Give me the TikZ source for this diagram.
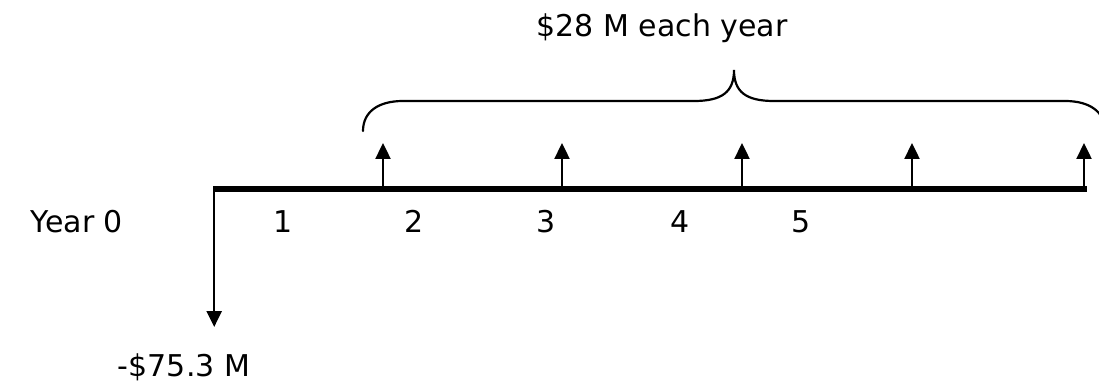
\documentclass[tikz,border=0pt]{standalone}
\usepackage{fontspec}
\setmainfont{DejaVu Sans}
\usetikzlibrary{arrows.meta}
\tikzset{
  lbl/.style={anchor=base, inner sep=0pt, font=\fontsize{30}{36}\selectfont},
  cash/.style={line width=2.4pt, -{Triangle[width=15pt,length=16pt]}},
  axis/.style={line width=6pt, line cap=butt},
  bracestyle/.style={line width=2.2pt, line cap=round}
}
\begin{document}
\begin{tikzpicture}[x=1pt,y=-1pt]
\useasboundingbox (0,0) rectangle (1099,382);
% timeline
\coordinate (t0) at (213,189);
\coordinate (tend) at (1087,189);
\draw[axis] (t0) -- (tend);
% outflow at year 0
\coordinate (v0) at (214.2,186);
\coordinate (out) at (214.2,327);
\draw[cash] (v0) -- (out);
% inflows
\foreach \i/\x in {1/383,2/562,3/742,4/912,5/1084}{
  \coordinate (b\i) at (\x,189);
  \coordinate (u\i) at (\x,143);
  \draw[cash] (b\i) -- (u\i);
}
% labels
\node[lbl] (year0) at (77,232) {Year 0};
\node[lbl] (n1) at (283,232) {1};
\node[lbl] (n2) at (414,232) {2};
\node[lbl] (n3) at (546,232) {3};
\node[lbl] (n4) at (680,232) {4};
\node[lbl] (n5) at (801,232) {5};
\node[lbl] (neg) at (184,376) {-\$75.3 M};
\node[lbl] (each) at (662,37) {\$28 M each year};
% brace
\draw[bracestyle] (363,131) .. controls (363,112) and (378,101) .. (403,101)
  -- (694,101) .. controls (722,101) and (734,92) .. (734,70)
  .. controls (734,92) and (746,101) .. (774,101)
  -- (1065,101) .. controls (1090,101) and (1105,112) .. (1105,131);
\end{tikzpicture}
\end{document}
